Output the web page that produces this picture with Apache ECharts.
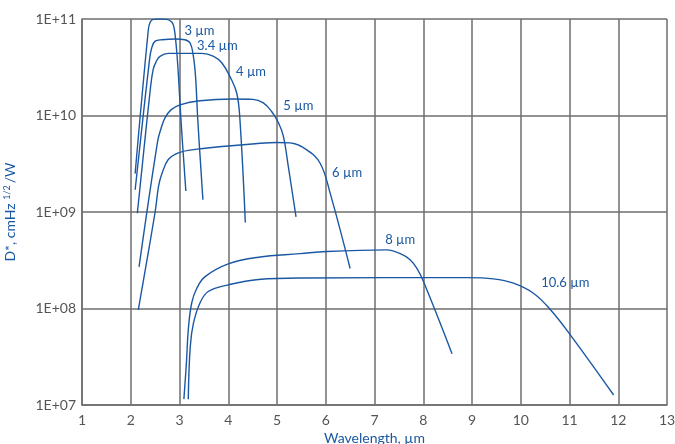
<!DOCTYPE html>
<html>
<head>
<meta charset="utf-8">
<script src="https://cdn.jsdelivr.net/npm/echarts@6/dist/echarts.min.js"></script>
<style>
html,body{margin:0;padding:0;background:#fff;}
#c{width:675px;height:444px;}
</style>
</head>
<body>
<div id="c"></div>
<script>
// Wavelength ticks (µm)
const xTicks = [1,2,3,4,5,6,7,8,9,10,11,12,13];
// Decade ticks for D*
const yTickExponents = [7,8,9,10,11];

// Curve names (cut-off wavelength)
const curveNames = ['3 µm','3.4 µm','4 µm','5 µm','6 µm','8 µm','10.6 µm'];

// D* curves: [wavelength µm, D* cmHz^1/2/W]
const d3 = [[2.09,2.5e9],[2.36,7.7e10],[2.40,9.3e10],[2.46,9.9e10],[2.57,1.0e11],[2.74,9.9e10],[2.84,9.3e10],[2.89,8.1e10],[2.94,4.8e10],[2.98,2.5e10],[3.03,9.0e9],[3.13,1.65e9]];
const d34 = [[2.09,1.7e9],[2.385,3.8e10],[2.43,5.0e10],[2.50,5.9e10],[2.64,6.1e10],[2.91,6.2e10],[3.11,6.1e10],[3.22,5.6e10],[3.285,4.1e10],[3.33,2.5e10],[3.375,9.0e9],[3.48,1.34e9]];
const d4 = [[2.135,9.7e8],[2.40,1.85e10],[2.46,3.0e10],[2.52,3.6e10],[2.60,4.1e10],[2.77,4.4e10],[3.01,4.4e10],[3.46,4.4e10],[3.70,4.1e10],[3.87,3.5e10],[4.04,2.5e10],[4.175,1.7e10],[4.24,9.0e9],[4.35,7.8e8]];
const d5 = [[2.17,2.7e8],[2.55,5.35e9],[2.62,7.3e9],[2.70,9.4e9],[2.83,1.15e10],[3.01,1.29e10],[3.42,1.42e10],[4.10,1.48e10],[4.51,1.47e10],[4.72,1.35e10],[4.89,1.10e10],[5.03,8.4e9],[5.13,6.1e9],[5.23,3.0e9],[5.39,8.9e8]];
const d6 = [[2.155,9.7e7],[2.50,1.0e9],[2.57,1.84e9],[2.64,2.5e9],[2.77,3.5e9],[2.98,4.1e9],[3.25,4.4e9],[3.94,4.8e9],[4.55,5.1e9],[5.00,5.25e9],[5.27,5.2e9],[5.61,4.4e9],[5.885,3.2e9],[6.09,1.57e9],[6.50,2.6e8]];
const d8 = [[3.09,1.15e7],[3.145,2.9e7],[3.18,6.0e7],[3.25,1.14e8],[3.355,1.62e8],[3.525,2.14e8],[4.00,2.9e8],[4.62,3.4e8],[5.475,3.7e8],[6.02,3.9e8],[7.25,4.05e8],[7.53,3.7e8],[7.73,3.2e8],[7.87,2.6e8],[8.005,1.9e8],[8.59,3.4e7]];
const d106 = [[3.18,1.15e7],[3.22,4.0e7],[3.285,7.0e7],[3.42,1.14e8],[3.59,1.5e8],[4.00,1.76e8],[4.62,2.0e8],[5.58,2.07e8],[8.90,2.09e8],[9.44,2.03e8],[9.85,1.83e8],[10.26,1.44e8],[10.61,9.7e7],[11.02,5.3e7],[11.905,1.27e7]];

const curves = [d3,d34,d4,d5,d6,d8,d106];
// label anchor points in data space (left-middle of text)
const labelAt = [[3.10,7.6e10],[3.36,5.3e10],[4.16,2.85e10],[5.13,1.26e10],[6.13,2.55e9],[7.22,5.1e8],[10.42,1.84e8]];

const BLUE = '#1a58a3';
const GRID = '#6e6e6e';
const FONT = 'Lato, "Open Sans", sans-serif';

const chart = echarts.init(document.getElementById('c'), null, {renderer:'canvas'});

const series = curves.map((d,i)=>({
  type:'line',
  name: curveNames[i],
  data: d,
  smooth: 0.4,
  showSymbol:false,
  symbol:'none',
  clip:true,
  lineStyle:{color:BLUE,width:1.4},
  silent:true,
  markPoint:{
    symbol:'circle',
    symbolSize:0,
    silent:true,
    data:[{coord:labelAt[i], value:curveNames[i]}],
    label:{show:true,position:'right',distance:0,formatter:curveNames[i],color:BLUE,fontSize:13,fontFamily:FONT}
  }
}));

chart.setOption({
  animation:false,
  backgroundColor:'#fff',
  grid:{left:82,right:8,top:19,bottom:39,containLabel:false,outerBoundsMode:'none'},
  xAxis:{
    type:'value',
    min:xTicks[0],max:xTicks[xTicks.length-1],interval:1,
    name:'Wavelength, µm',
    nameLocation:'middle',nameGap:25,
    nameTextStyle:{color:BLUE,fontSize:14,fontFamily:FONT},
    axisLine:{show:true,lineStyle:{color:GRID,width:1.5}},
    axisTick:{show:false},
    axisLabel:{color:'#555',fontSize:14,fontFamily:FONT,margin:8},
    splitLine:{show:true,lineStyle:{color:GRID,width:1.5}}
  },
  yAxis:{
    type:'log',logBase:10,
    min:Math.pow(10,yTickExponents[0]),max:Math.pow(10,yTickExponents[yTickExponents.length-1]),
    name:'{a|D*, cmHz }{s|1/2}{a|/W}',
    nameLocation:'middle',nameGap:64,
    nameTextStyle:{rich:{a:{color:BLUE,fontSize:14,fontFamily:FONT},s:{color:BLUE,fontSize:9,fontFamily:FONT,verticalAlign:'top',padding:[0,2,6,0]}}},
    axisLine:{show:true,lineStyle:{color:GRID,width:1.5}},
    axisTick:{show:false},
    axisLabel:{color:'#555',fontSize:14,fontFamily:FONT,margin:6,
      formatter:v=>'1E+'+String(Math.round(Math.log10(v))).padStart(2,'0')},
    splitLine:{show:true,lineStyle:{color:GRID,width:1.5}}
  },
  series:series
});
</script>
</body>
</html>
